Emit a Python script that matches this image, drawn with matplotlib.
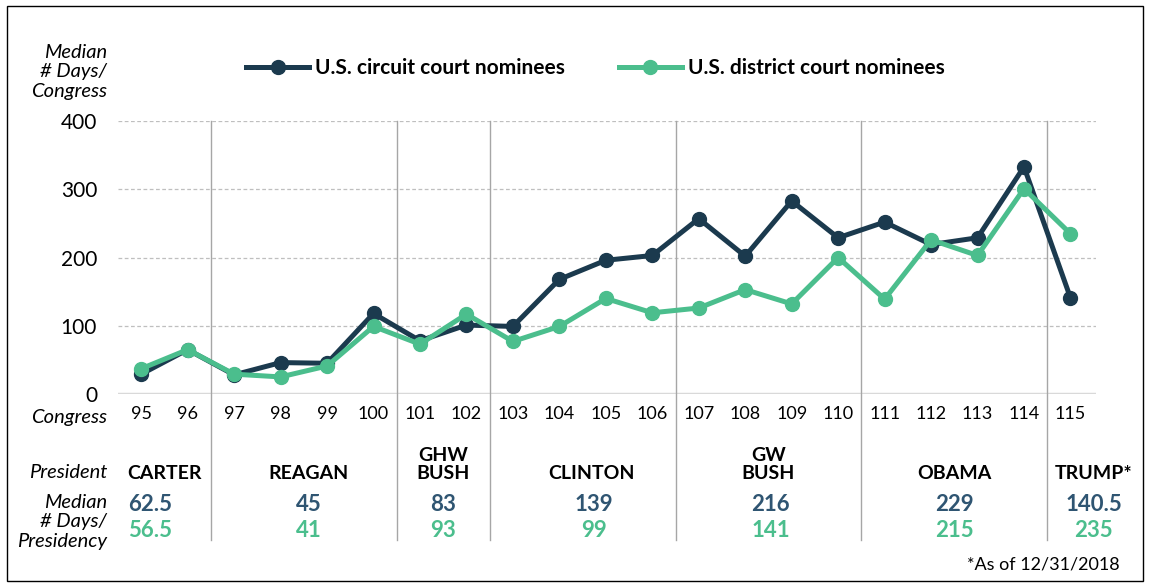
import matplotlib.pyplot as plt
from matplotlib.lines import Line2D
from matplotlib.patches import Rectangle

plt.rcParams['font.family'] = ['Lato', 'DejaVu Sans']

# data
congress = [95, 96, 97, 98, 99, 100, 101, 102, 103, 104, 105,
            106, 107, 108, 109, 110, 111, 112, 113, 114, 115]
circuit = [29, 65, 28, 46, 45, 118, 78, 101, 99, 168, 196,
           203, 257, 202, 283, 229, 252, 219, 229, 333, 141]
district = [37, 65, 29, 25, 41, 99, 73, 117, 77, 99, 140,
            119, 126, 153, 132, 200, 139, 226, 203, 301, 235]

presidents = ['CARTER', 'REAGAN', 'GHW\nBUSH', 'CLINTON', 'GW\nBUSH', 'OBAMA', 'TRUMP*']
pres_circuit = ['62.5', '45', '83', '139', '216', '229', '140.5']
pres_district = ['56.5', '41', '93', '99', '141', '215', '235']
boundaries = [96.5, 100.5, 102.5, 106.5, 110.5, 114.5]
name_x = [95.5, 98.6, 101.5, 104.7, 108.5, 112.5, 115.5]
num_x = [95.2, 98.6, 101.5, 104.75, 108.55, 112.5, 115.5]

dark = '#1B3A4E'
green = '#4BBE8D'
num_dark = '#2F5572'

fig = plt.figure(figsize=(11.52, 5.88), dpi=100)
ax = fig.add_axes([0.1024, 0.330, 0.849, 0.464])

for y in [100, 200, 300, 400]:
    ax.axhline(y, color='#BFBFBF', lw=0.9, ls=(0, (3, 2)), zorder=1)
ax.axhline(0, color='#D9D9D9', lw=2.5, zorder=1)

for b in boundaries:
    ax.add_line(Line2D([b, b], [-0.535, 1.0], transform=ax.get_xaxis_transform(),
                       color='#A6A6A6', lw=1, clip_on=False, zorder=1))

ax.plot(congress, circuit, color=dark, lw=3.6, marker='o', ms=10,
        label='U.S. circuit court nominees', zorder=3)
ax.plot(congress, district, color=green, lw=3.6, marker='o', ms=10,
        label='U.S. district court nominees', zorder=4)

ax.set_xlim(94.5, 115.55)
ax.set_ylim(0, 400)
ax.set_yticks([0, 100, 200, 300, 400])
ax.set_yticklabels(['0', '100', '200', '300', '400'], fontsize=15)
ax.set_xticks(congress)
ax.set_xticklabels([str(c) for c in congress], fontsize=13)
ax.tick_params(axis='both', length=0)
ax.tick_params(axis='x', pad=9)
ax.tick_params(axis='y', pad=15)
for s in ax.spines.values():
    s.set_visible(False)

fig.legend(loc='center', bbox_to_anchor=(0.517, 0.884), ncol=2, frameon=False,
           handlelength=3.0, columnspacing=2.6, handletextpad=0.3,
           prop={'weight': 'bold', 'size': 15})

tx = ax.get_xaxis_transform()
lx = 107 / 1152
fig.text(lx, 1 - 72 / 588, 'Median\n# Days/\nCongress', ha='right', va='center',
         style='italic', fontsize=14.5, linespacing=1.15)
fig.text(lx, 1 - 418 / 588, 'Congress', ha='right', va='center',
         style='italic', fontsize=14.5)
fig.text(lx, 1 - 472 / 588, 'President', ha='right', va='center',
         style='italic', fontsize=14.5)
fig.text(lx, 1 - 522 / 588, 'Median\n# Days/\nPresidency', ha='right', va='center',
         style='italic', fontsize=14.5, linespacing=1.15)

for x, name in zip(name_x, presidents):
    ax.text(x, (394 - 482) / 273, name, transform=tx, ha='center', va='bottom',
            fontsize=14, fontweight='bold', linespacing=1.1, color='black')

for x, c, d in zip(num_x, pres_circuit, pres_district):
    ax.text(x, (394 - 505) / 273, c, transform=tx, ha='center', va='center',
            fontsize=16, fontweight='bold', color=num_dark)
    ax.text(x, (394 - 531) / 273, d, transform=tx, ha='center', va='center',
            fontsize=16, fontweight='bold', color=green)

fig.text(1120 / 1152, 1 - 565 / 588, '*As of 12/31/2018', ha='right', va='center',
         fontsize=13)

fig.add_artist(Rectangle((0.006, 0.012), 0.986, 0.977, transform=fig.transFigure,
                         fill=False, ec='black', lw=1))

fig.savefig('out.png', dpi=100)
